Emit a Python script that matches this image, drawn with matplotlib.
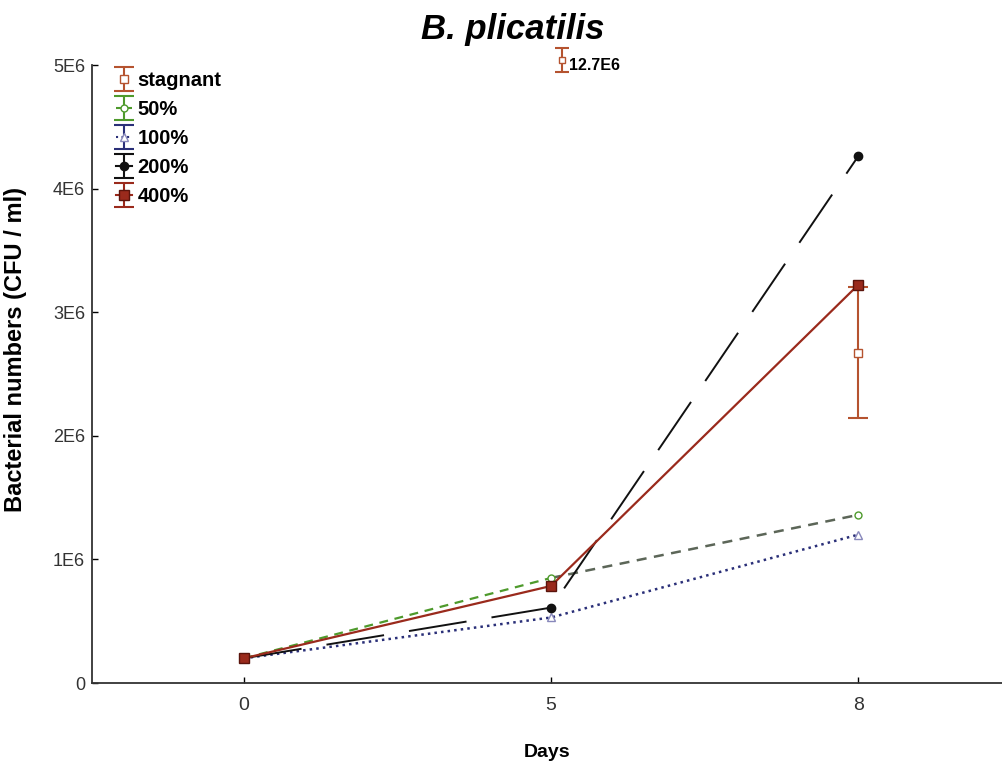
import numpy as np
import matplotlib
matplotlib.use('Agg')
import matplotlib.pyplot as plt
from matplotlib.legend_handler import HandlerErrorbar
from matplotlib.container import ErrorbarContainer

plt.rcParams['font.family'] = ['Liberation Sans', 'DejaVu Sans']

days = ['0', '5', '8']
x_pos = np.arange(len(days))

# bacterial numbers (CFU / ml)
stagnant = [0.2e6, 12.7e6, 2.67e6]
stagnant_err = [0.0, 0.0, 0.53e6]
fifty = [0.2e6, 0.85e6, 1.36e6]
hundred = [0.2e6, 0.53e6, 1.2e6]
two_hundred = [0.2e6, 0.61e6, 4.26e6]
four_hundred = [0.2e6, 0.785e6, 3.22e6]

c_stag = '#b5532f'
c_50 = '#4e9a2c'
c_100 = '#2a2f78'
c_200 = '#111111'
c_400 = '#9a2a1c'

fig = plt.figure(figsize=(10.03, 7.62), dpi=100)
ax = fig.add_axes([92/1003, 1-683/762, 911/1003, (683-65)/762])

# stagnant: day 5 is off the scale, shown as a note at the top
ax.plot(x_pos[0], stagnant[0], 's', ms=6, mfc='white', mec=c_stag, zorder=2)
ax.errorbar(x_pos[2], stagnant[2], yerr=stagnant_err[2],
            fmt='s', ms=6, mfc='white', mec=c_stag, color=c_stag, ecolor=c_stag,
            elinewidth=1.5, capsize=7, capthick=1.5, zorder=4.5)

ax.plot(x_pos[:2], fifty[:2], '--', color=c_50, lw=1.6, dashes=(4, 3), zorder=3)
ax.plot(x_pos[1:], fifty[1:], '--', color='#5c6658', lw=1.8, dashes=(4, 3), zorder=3)
ax.plot(x_pos, fifty, 'o', ms=5, mfc='white', mec=c_50, zorder=4)
ax.plot(x_pos, hundred, '^:', ms=6, mfc='white', mec='#8888bb', color=c_100, lw=1.8, zorder=3)
ax.plot(x_pos, two_hundred, 'o-', ms=6, mfc=c_200, mec=c_200, color=c_200, lw=1.4,
        dashes=(30, 13), zorder=4)
ax.plot(x_pos, four_hundred, 's-', ms=7, mfc=c_400, mec='#5a140c', color=c_400, lw=1.6, zorder=5)

# off-scale note for stagnant day 5
ax.errorbar([1.035], [5.04e6], yerr=[0.1e6], fmt='s', ms=5, mfc='white', mec=c_stag,
            ecolor=c_stag, elinewidth=1.5, capsize=5, capthick=1.5, clip_on=False, zorder=6)
ax.text(1.06, 4.995e6, '%.1fE6' % (stagnant[1] / 1e6), fontsize=11.5, fontweight='bold',
        va='center', ha='left')

# legend proxies (nan data, only shown in the legend)
def proxy(fmt, **kw):
    return ax.errorbar([np.nan], [np.nan], yerr=[1], fmt=fmt, elinewidth=1.5, capsize=7,
                       capthick=1.5, **kw)

handles = [proxy('s', ms=6, mfc='white', mec=c_stag, ecolor=c_stag),
           proxy('o--', ms=5, mfc='white', mec=c_50, color=c_50, ecolor=c_50, lw=1.5),
           proxy('^:', ms=6, mfc='white', mec='#8888bb', color=c_100, ecolor=c_100, lw=1.5),
           proxy('o-', ms=6, mfc=c_200, mec=c_200, color=c_200, ecolor=c_200, lw=1.5),
           proxy('s-', ms=7, mfc=c_400, mec='#5a140c', color=c_400, ecolor=c_400, lw=1.5)]

ax.set_xlim(-0.495, 2.472)
ax.set_ylim(0, 5e6)
ax.set_xticks(x_pos)
ax.set_xticklabels(days)
ax.set_yticks([0, 1e6, 2e6, 3e6, 4e6, 5e6])
ax.set_yticklabels(['0', '1E6', '2E6', '3E6', '4E6', '5E6'])
ax.tick_params(direction='in', length=4, width=1, labelcolor='#333333')
ax.tick_params(axis='x', labelsize=14, pad=10)
ax.tick_params(axis='y', labelsize=13, pad=5)
for s in ['top', 'right']:
    ax.spines[s].set_visible(False)
for s in ['left', 'bottom']:
    ax.spines[s].set_linewidth(1.3)
    ax.spines[s].set_color('#333333')

ax.set_xlabel('Days', fontsize=14, fontweight='bold', labelpad=22)
ax.set_ylabel('Bacterial numbers (CFU / ml)', fontsize=17, fontweight='bold')
ax.yaxis.set_label_coords(-0.071, 0.54)
fig.text(513/1003, 1-30/762, 'B. plicatilis', fontsize=25, fontweight='bold', style='italic',
         ha='center', va='center')

leg = ax.legend(handles=handles,
                labels=['stagnant', '50%', '100%', '200%', '400%'],
                loc='upper left', bbox_to_anchor=(0.006, 1.02), frameon=False,
                handlelength=0.8, handletextpad=0.3, labelspacing=0.5,
                prop={'weight': 'bold', 'size': 14.5},
                handler_map={ErrorbarContainer: HandlerErrorbar(xerr_size=0.3, yerr_size=0.6)})

fig.savefig('out.png', dpi=100)
